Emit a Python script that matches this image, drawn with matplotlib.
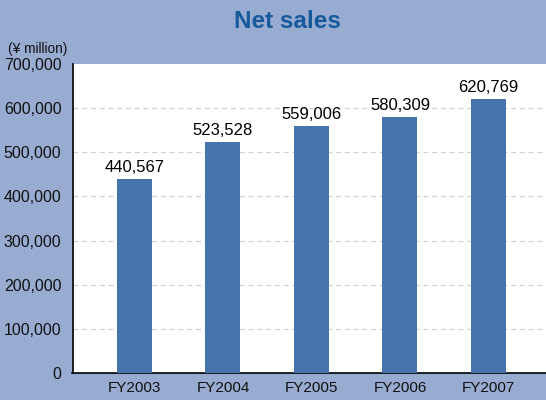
import numpy as np
import matplotlib.pyplot as plt

years = ['FY2003', 'FY2004', 'FY2005', 'FY2006', 'FY2007']
sales = [440567, 523528, 559006, 580309, 620769]
yticks = [0, 100000, 200000, 300000, 400000, 500000, 600000, 700000]

plt.rcParams['font.family'] = ['Liberation Sans', 'DejaVu Sans']

bg = '#98acd2'
fig = plt.figure(figsize=(5.46, 4.0), dpi=100, facecolor=bg)
ax = fig.add_axes([72.5/546, 1-373/400, 1-72.5/546, 309/400])
ax.set_facecolor('white')

x = np.arange(len(years))
ax.bar(x, sales, width=0.395, color='#4674ad', zorder=3)
for xi, v in zip(x, sales):
    ax.text(xi, v + 9000, f'{v:,}', ha='center', va='bottom', fontsize=12, color='black')

ax.set_xlim(-0.70, 4.65)
ax.set_ylim(0, 700000)
ax.set_yticks(yticks)
ax.set_yticklabels([f'{t:,}' for t in yticks], fontsize=11.5)
ax.set_xticks(x)
ax.set_xticklabels(years, fontsize=11)
ax.tick_params(length=0, pad=8, colors='#111111')
ax.tick_params(axis='x', pad=6)
for t in yticks[1:-1]:
    ax.axhline(t, color='#d0d0d0', lw=0.9, ls=(0, (4, 3)), zorder=1)

for s in ['top', 'right']:
    ax.spines[s].set_visible(False)
ax.spines['left'].set_linewidth(1.2)
ax.spines['bottom'].set_linewidth(1.2)

fig.text(287/546, 1-21/400, 'Net sales', ha='center', va='center',
         fontsize=17.5, fontweight='bold', color='#165a9c')
fig.text(8/546, 1-49/400, '(¥ million)', ha='left', va='center', fontsize=9.8, color='#111111')

fig.savefig('out.png', dpi=100, facecolor=bg)
